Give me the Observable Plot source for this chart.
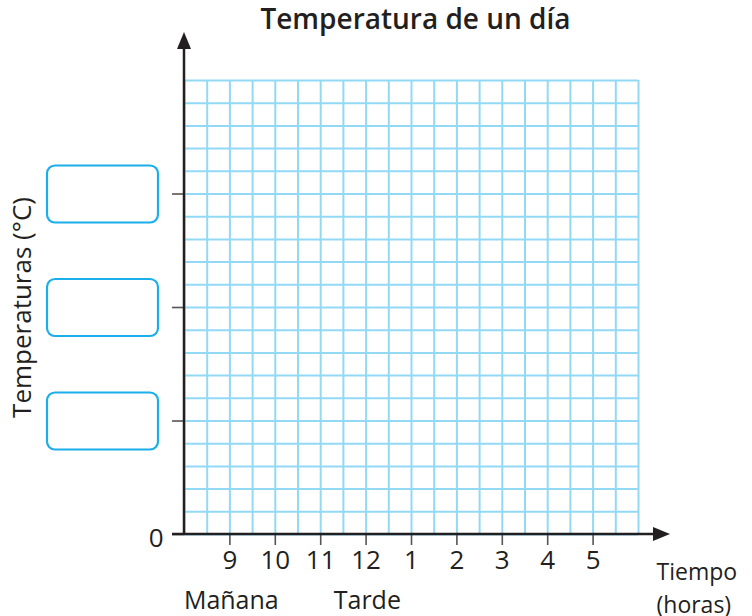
<!DOCTYPE html>
<html>
<head>
<meta charset="utf-8">
<script src="https://cdn.jsdelivr.net/npm/d3@7"></script>
<script src="https://cdn.jsdelivr.net/npm/@observablehq/plot@0.6"></script>
<style>
  html, body { margin: 0; padding: 0; background: #fff; }
  #chart { width: 752px; height: 616px; overflow: hidden; }
  svg { font-family: "Open Sans", sans-serif; }
</style>
</head>
<body>
<div id="chart"></div>
<script>
// ---- data ----
const title = "Temperatura de un día";
const yLabel = "Temperaturas (°C)";
const xLabelLines = ["Tiempo", "(horas)"];
const periodLabels = ["Mañana", "Tarde"];
const periodHours = [9, 12.3];           // where each period label sits (hour position)
const hourTicks = [9, 10, 11, 12, 13, 14, 15, 16, 17];
const hourTickLabels = ["9", "10", "11", "12", "1", "2", "3", "4", "5"];
const xDomain = [8, 18];                 // hours
const yDomain = [0, 20];                 // grid units
const yTicks = [0, 5, 10, 15];
const yZeroLabel = ["0"];
const answerBoxesAt = [15, 10, 5];       // empty boxes to fill in
const gridX = d3.range(8, 18.01, 0.5);
const gridY = d3.range(0, 20.01, 1);

// ---- layout ----
const W = 752, H = 616;
const mL = 184, mR = 114, mT = 80, mB = 82;
const ink = "#231f20";
const gridColor = "#92d9f5";
const boxColor = "#1aaeea";

const plot = Plot.plot({
  width: W, height: H,
  marginLeft: mL, marginRight: mR, marginTop: mT, marginBottom: mB,
  style: {fontFamily: "'Open Sans', sans-serif", background: "#fff", overflow: "visible"},
  x: {domain: xDomain, label: null},
  y: {domain: yDomain, label: null},
  marks: [
    Plot.ruleX(gridX, {stroke: gridColor, strokeWidth: 2}),
    Plot.ruleY(gridY, {stroke: gridColor, strokeWidth: 2}),
    Plot.axisX({
      ticks: hourTicks, tickSize: 11, tickPadding: 5,
      tickFormat: d => hourTickLabels[hourTicks.indexOf(d)],
      fontSize: 26, stroke: "#555", strokeWidth: 1.6, color: ink, label: null
    }),
    Plot.axisY({
      ticks: yTicks, tickSize: 12, tickFormat: () => "",
      stroke: "#555", strokeWidth: 1.6, label: null
    }),
    Plot.axisY({
      ticks: [0], tickSize: 0, tickPadding: 21, dy: 4,
      tickFormat: d => yZeroLabel[0],
      fontSize: 26, color: ink, label: null
    }),
    // title
    Plot.text([title], {frameAnchor: "top", dy: -71, dx: 4, lineAnchor: "top", text: d => d, fontSize: 28, fontWeight: 600, fill: ink}),
    // y label
    Plot.text([yLabel], {frameAnchor: "left", dx: -162, rotate: -90, textAnchor: "middle", lineAnchor: "middle", text: d => d, fontSize: 26, fill: ink}),
    // x axis label
    Plot.text([xLabelLines.join("\n")], {frameAnchor: "bottom-right", dx: 18, dy: 23, textAnchor: "start", lineAnchor: "top", lineHeight: 1.4, text: d => d, fontSize: 23, fill: ink}),
    // period labels
    Plot.text(periodLabels, {x: (d, i) => periodHours[i], frameAnchor: "bottom", dy: 74, dx: -46, textAnchor: "start", lineAnchor: "bottom", text: d => d, fontSize: 25, fill: ink})
  ]
});

document.getElementById("chart").appendChild(plot);

// ---- axes with arrows and answer boxes, positioned through Plot's scales ----
const sx = plot.scale("x"), sy = plot.scale("y");
const X = v => sx.apply ? sx.apply(v) : d3.scaleLinear(sx.domain, sx.range)(v);
const Y = v => sy.apply ? sy.apply(v) : d3.scaleLinear(sy.domain, sy.range)(v);
const svg = d3.select(plot);
const g = svg.append("g");
const x0 = X(xDomain[0]), y0 = Y(yDomain[0]);
const xEnd = X(xDomain[1]) + 32, yEnd = Y(yDomain[1]) - 48;
g.append("line").attr("x1", x0 - 12).attr("x2", xEnd - 12).attr("y1", y0).attr("y2", y0)
  .attr("stroke", ink).attr("stroke-width", 2.5);
g.append("line").attr("x1", x0).attr("x2", x0).attr("y1", y0).attr("y2", yEnd + 12)
  .attr("stroke", ink).attr("stroke-width", 2.5);
g.append("path").attr("d", `M${xEnd},${y0} L${xEnd - 17},${y0 - 7} L${xEnd - 17},${y0 + 7} Z`).attr("fill", ink);
g.append("path").attr("d", `M${x0},${yEnd} L${x0 - 7},${yEnd + 17} L${x0 + 7},${yEnd + 17} Z`).attr("fill", ink);
answerBoxesAt.forEach(v => {
  g.append("rect").attr("x", 47).attr("y", Y(v) - 28).attr("width", 111).attr("height", 57)
    .attr("rx", 8).attr("fill", "#fff").attr("stroke", boxColor).attr("stroke-width", 2.2);
});
</script>
</body>
</html>
